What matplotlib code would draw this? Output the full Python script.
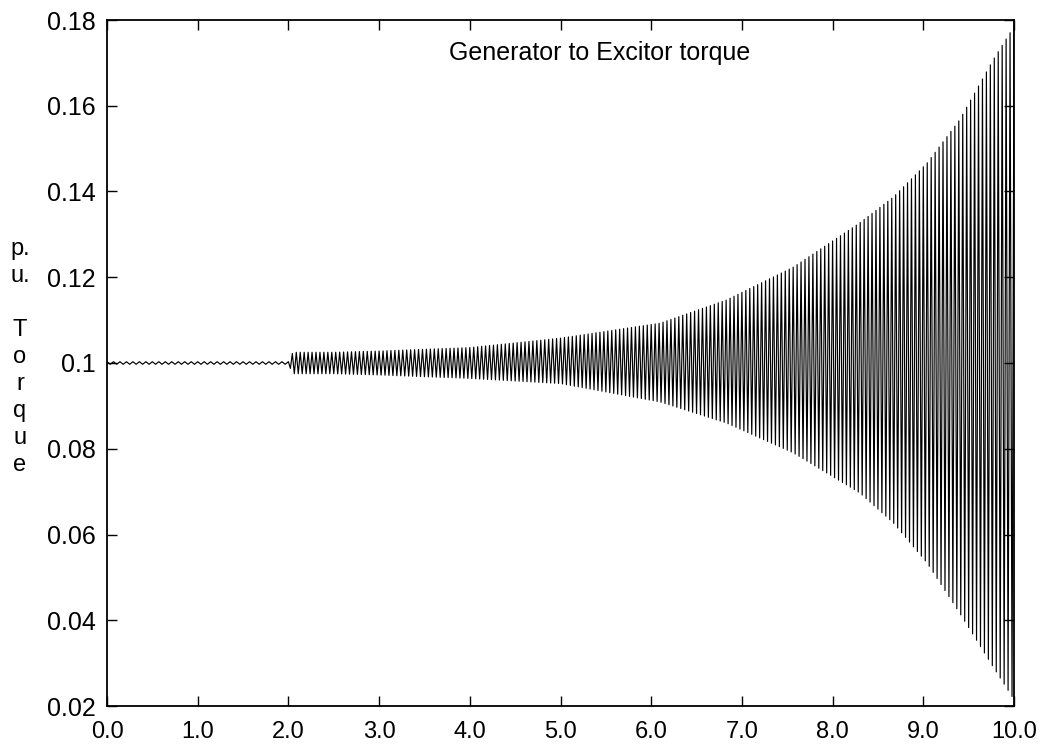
import numpy as np
import matplotlib
matplotlib.use('Agg')
import matplotlib.pyplot as plt
from matplotlib.ticker import FormatStrFormatter, FuncFormatter

# envelope of the torque trace (s, p.u.)
env_t = [0.0, 2.0, 2.05, 2.5, 3.0, 4.0, 5.0, 6.1, 6.83, 7.57, 8.3, 8.67, 9.04, 9.4, 9.77, 10.0]
env_upper = [0.1003, 0.1003, 0.1025, 0.1025, 0.1028, 0.1036, 0.1058, 0.1093, 0.1147,
             0.1224, 0.1327, 0.1387, 0.1466, 0.1567, 0.1707, 0.1785]
env_lower = [0.0997, 0.0997, 0.0975, 0.0975, 0.0972, 0.0964, 0.0952, 0.0909, 0.0860,
             0.0790, 0.0697, 0.0627, 0.0534, 0.0417, 0.0291, 0.0215]

# oscillation frequencies read from the stroke spacing (Hz)
ripple_hz = 14.0     # before the disturbance at 2 s
torsion_hz = 23.0    # growing torsional mode after 2 s
t_event = 2.0

x_ticks = [0, 1, 2, 3, 4, 5, 6, 7, 8, 9, 10]
y_ticks = [0.02, 0.04, 0.06, 0.08, 0.1, 0.12, 0.14, 0.16, 0.18]

# peaks alternate between the upper and lower envelope, one every half period
t_pre = np.arange(0.0, t_event, 0.5 / ripple_hz)
t_post = np.arange(t_event, 10.0 + 1e-9, 0.5 / torsion_hz)
t = np.concatenate([t_pre, t_post])
up = np.interp(t, env_t, env_upper)
lo = np.interp(t, env_t, env_lower)
sel = np.arange(len(t)) % 2 == 0
torque = np.where(sel, up, lo)

plt.rcParams['font.family'] = ['Liberation Sans', 'DejaVu Sans']

fig = plt.figure(figsize=(10.47, 7.5), dpi=100)
ax = fig.add_axes([107 / 1047, 1 - 706 / 750, 907 / 1047, 686 / 750])

ax.plot(t, torque, color='black', lw=0.85)

ax.set_xlim(0, 10)
ax.set_ylim(0.02, 0.18)
ax.set_xticks(x_ticks)
ax.set_yticks(y_ticks)
ax.xaxis.set_major_formatter(FormatStrFormatter('%.1f'))
ax.yaxis.set_major_formatter(FuncFormatter(lambda v, p: f'{v:g}'))
ax.tick_params(direction='in', length=7, width=1, top=True, right=True)
ax.tick_params(axis='x', labelsize=17, pad=11)
ax.tick_params(axis='y', labelsize=18, pad=8)
for s in ax.spines.values():
    s.set_linewidth(1.3)

ax.text(0.5435, 0.952, 'Generator to Excitor torque', transform=ax.transAxes,
        ha='center', va='center', fontsize=18)

fig.text(20 / 1047, 1 - 357 / 750, 'p.\nu.\n\nT\no\nr\nq\nu\ne', ha='center', va='center',
         multialignment='center', fontsize=17, linespacing=1.3)

fig.savefig('out.png', dpi=100, facecolor='white')
